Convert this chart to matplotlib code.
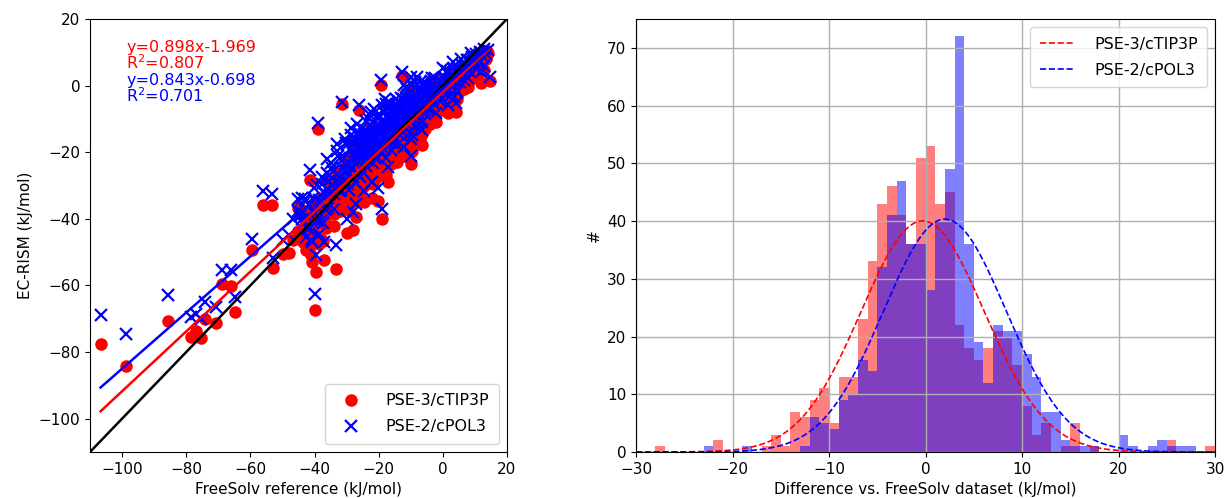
import numpy as np
import matplotlib
matplotlib.use("Agg")
import matplotlib.pyplot as plt

plt.rcParams["font.family"] = "DejaVu Sans"
plt.rcParams["font.size"] = 11

# FreeSolv reference hydration free energies and EC-RISM predictions (kJ/mol)
ref_x = [
    -106.7, -98.9, -85.8, -78.5, -76.8, -75.4, -74.2, -70.7, -68.7, -66.1,
    -64.8, -59.4, -56.2, -53.1, -52.9, -49.8, -47.9, -46.7, -45.1, -41.3,
    -39.9, -39.4, -38.9, -37.0, -33.4, -31.3, -26.1, -19.1, -19.4, -12.6,
    12.0, 14.6, 4.2, -42.8, -40.8, -38.5, -30.0, -28.0, -27.0, -24.5,
    -22.0, -20.3, -17.0, -10.0, -12.0, -6.5, -2.0, 1.5, 3.5, 7.8,
    10.5, -22.5, -26.6, -23.9, -30.6, -33.0, -36.0, -44.0,
    14.2, 13.5, 12.8, 12.1, 11.6, 10.9, 10.3, 9.8, 9.1, 8.6, 8.0, 7.4, 13.0, 11.2,
    6.8, 6.2, 5.9, 5.3, 4.8, 4.4, 3.9, 3.5, 3.0, 2.6, 2.1, 1.7, 1.2, 0.8, 0.3,
    -0.2, -0.6, -1.0, -1.5, -1.9, -2.3, -2.8, -3.2, -3.6, -4.1,
    -4.5, -4.9, -5.3, -5.6, -6.0, -6.3, -6.7, -7.0, -7.4, -7.7,
    -8.1, -8.4, -8.8, -9.1, -9.5, -9.8, -10.2, -10.5, -10.9, -11.2,
    -11.6, -11.9, -12.3, -13.0, -13.3, -13.7, -14.0, -14.4, -14.7,
    -4.7, -5.8, -6.9, -7.9, -8.6, -9.3, -10.0, -10.7, -11.4, -12.0, -13.5, -14.2, -15.0,
    -15.3, -15.6, -16.0, -16.3, -16.7, -17.0, -17.4, -17.8, -18.1, -18.5,
    -18.8, -19.2, -19.6, -19.9, -20.3, -20.6, -21.0, -21.4, -21.8, -22.1,
    -22.5, -22.9, -23.2, -23.6, -24.0, -24.4, -24.7, -25.0,
    -15.8, -16.5, -17.2, -17.6, -18.3, -19.0, -20.0, -20.8, -21.2, -21.6, -22.3, -23.0, -23.8, -24.2,
    -25.4, -25.8, -26.3, -26.7, -27.1, -27.5, -27.9, -28.3, -28.7, -29.1,
    -29.5, -29.9, -30.3, -30.7, -31.6, -32.0, -32.4, -32.9, -33.8, -34.2,
    -34.6, -35.0,
    -25.6, -26.9, -27.7, -28.5, -29.3, -30.5, -31.0, -33.1, -34.0,
    -35.4, -35.8, -36.2, -36.6, -37.4, -37.8, -38.2, -39.1, -40.2, -40.6,
    -41.0, -41.7, -42.1, -42.6, -43.2, -43.8, -44.5, -45.2,
    9.5, 8.9, 8.3, 7.7, 7.1, 6.5, 5.6, 5.0, 4.6, 4.0,
    3.3, 2.8, 2.3, 1.9, 1.4, 1.0, 0.5, 0.1, -0.4, -0.8,
    -2.5, -3.0, -3.4, -3.9, -4.3, -5.1, -5.5, -6.1, -6.5, -7.2,
    -7.6, -8.0, -8.3, -8.7, -9.0, -9.4, -9.7, -10.1, -10.4, -10.8,
    -11.1, -11.5, -11.8, -12.2, -12.5, -12.9, -13.2, -13.6, -13.9, -14.3,
    -14.6, -3.8, -6.6, -9.9, -12.8,
    -15.1, -15.5, -15.9, -16.2, -16.6, -16.9, -17.3, -17.7, -18.0, -18.4,
    -18.7, -19.3, -19.7, -20.1, -20.5, -20.9, -21.3, -21.7, -22.2, -22.6,
    -23.1, -23.5, -24.1, -24.6, -24.9, -25.3, -25.7, -26.2, -26.5, -27.3,
    -27.8, -28.1, -28.9, -29.7, -30.1, -31.2, -31.9, -32.6, -33.5, -34.4,
    -35.2, -35.6, -36.4, -36.9, -37.6, -38.0, -38.7, -39.3, -39.7, -40.4,
    -41.5, -42.3, -43.0, -43.5, -44.2,
]
pse3_y = [
    -77.6, -84.1, -70.8, -75.4, -73.6, -75.9, -70.0, -71.3, -59.7, -60.2,
    -67.9, -49.5, -35.9, -35.9, -54.8, -50.5, -50.2, -46.5, -36.9, -28.4,
    -67.3, -56.0, -13.1, -52.5, -55.0, -5.5, -7.3, -40.2, 0.2, 3.0,
    0.8, 1.3, -7.8, -49.5, -53.0, -47.5, -44.4, -43.4, -39.6, -35.0,
    -33.6, -34.6, -29.0, -23.4, -21.0, -14.5, -10.8, -8.3, -6.5, -0.5,
    2.6, -13.0, -17.5, -15.2, -22.0, -25.5, -28.0, -43.0,
    9.8, 8.1, 10.4, 7.2, 9.0, 6.5, 8.7, 5.1, 7.9, 4.3, 6.2, 3.0, 4.6, 3.8,
    3.5, 1.0, 4.6, -1.5, 2.9, -4.0, 1.4, 3.2, -2.6, 0.5, -5.8, 1.9, -1.2, -3.9, 0.2,
    -4.5, -1.8, -7.4, -2.2, -5.1, 0.8, -3.6, -8.5, -1.7, -6.0,
    -3.0, -10.4, -5.7, -13.0, -2.4, -9.6, -6.0, -16.3, -8.6, -4.9,
    -12.2, -8.5, -14.9, -4.1, -11.5, -7.8, -18.1, -9.4, -13.8, -7.0,
    -16.4, -12.7, -10.0, -19.6, -12.9, -17.3, -10.5, -15.9, -13.2,
    -7.2, -4.7, -12.7, -2.1, -11.7, -9.3, -20.0, -7.6, -13.2, -6.8, -16.1, -13.7, -20.4,
    -12.7, -20.0, -15.3, -23.6, -12.0, -18.2, -15.6, -21.0, -11.2, -20.6,
    -17.9, -25.2, -16.6, -19.8, -24.2, -16.5, -22.8, -20.2, -29.6, -19.8,
    -23.2, -17.5, -27.8, -22.2, -26.5, -20.9, -25.2, -30.4,
    -18.2, -14.8, -22.4, -13.8, -18.4, -13.0, -22.9, -18.7, -28.0, -15.4, -23.0, -19.6, -27.3, -21.7,
    -21.8, -27.1, -20.6, -31.0, -25.3, -34.7, -25.0, -30.4, -23.7, -29.1,
    -34.5, -25.8, -31.2, -28.5, -37.4, -28.7, -35.1, -26.5, -42.3, -31.7,
    -36.0, -30.4,
    -26.0, -24.1, -29.8, -21.6, -37.3, -29.4, -34.8, -32.7, -38.5,
    -35.8, -42.1, -32.5, -38.8, -46.6, -34.9, -41.3, -46.1, -36.1, -44.4,
    -50.8, -42.4, -48.8, -41.2, -46.8, -37.3, -45.9, -43.6,
    4.6, 8.0, 1.5, 5.9, 3.4, -1.1, 5.1, -0.5, 2.2, -4.4,
    4.0, -1.5, 1.1, -4.3, 1.3, -2.1, -4.5, 2.1, -7.3, -1.7,
    -3.2, -7.7, -1.0, -11.5, -5.8, -4.6, -11.9, -4.5, -8.8, -3.4,
    -15.8, -8.2, -12.4, -3.8, -12.1, -10.4, -19.7, -8.0, -15.3, -9.7,
    -12.9, -5.3, -17.6, -11.9, -15.2, -9.6, -19.8, -14.2, -11.5, -22.8,
    -10.1, -7.4, -17.9, -1.9, -16.5,
    -16.5, -11.9, -22.3, -14.5, -19.9, -11.2, -17.5, -26.9, -15.1, -20.5,
    -13.8, -23.3, -18.7, -27.0, -17.4, -20.7, -26.1, -17.5, -23.9, -15.3,
    -25.7, -22.1, -29.6, -21.1, -25.3, -19.7, -33.1, -23.5, -28.8, -22.5,
    -27.9, -33.2, -25.9, -32.6, -24.0, -32.0, -37.6, -28.2, -37.1, -31.9,
    -38.6, -32.9, -42.7, -38.1, -33.7, -46.1, -40.7, -36.3, -44.6, -40.3,
    -48.2, -45.0, -38.6, -47.0, -44.7,
]
pse2_y = [
    -69.0, -74.6, -62.8, -69.6, -68.6, -70.0, -65.0, -66.5, -55.5, -55.5,
    -63.5, -46.0, -31.7, -32.4, -51.8, -46.5, -45.0, -40.0, -33.9, -25.4,
    -62.5, -51.0, -11.3, -47.0, -48.0, -4.8, -5.8, -37.2, 1.6, 4.2,
    4.2, 2.7, -5.3, -45.6, -47.0, -44.5, -40.0, -38.0, -35.5, -31.5,
    -29.0, -30.6, -24.5, -21.0, -18.5, -11.0, -8.2, -5.7, -3.4, 2.3,
    5.0, -8.0, -11.5, -10.5, -16.0, -19.5, -22.0, -40.0,
    10.6, 9.4, 11.0, 8.8, 10.2, 8.1, 9.5, 7.0, 8.6, 6.4, 7.8, 5.5, 6.0, 6.9,
    5.9, 3.8, 6.3, 1.2, 4.9, -1.8, 3.9, 5.0, 0.3, 2.9, -3.1, 3.6, 1.7, -0.8, 2.6,
    -1.5, 1.0, -4.6, 0.9, -2.0, 2.4, -0.4, -5.2, 1.3, -3.0,
    -0.5, -6.8, -2.2, -8.4, 1.2, -5.0, -1.4, -12.6, -4.9, -1.2,
    -7.5, -3.8, -12.1, -0.4, -6.7, -4.0, -14.3, -3.6, -8.9, -1.1,
    -11.5, -7.7, -4.1, -13.7, -6.9, -12.3, -4.5, -10.8, -7.1,
    -3.7, -0.1, -7.5, 2.6, -5.0, -6.5, -16.1, -2.7, -9.3, 0.2, -8.1, -9.7, -16.4,
    -7.6, -14.9, -10.2, -19.4, -5.8, -13.0, -9.4, -15.7, -4.0, -13.3,
    -11.6, -19.9, -9.2, -13.5, -18.8, -9.1, -16.4, -12.7, -23.1, -12.3,
    -16.7, -10.0, -22.3, -15.6, -19.9, -13.3, -19.5, -25.8,
    -13.0, -7.6, -17.2, -5.5, -13.1, -5.7, -17.6, -14.2, -21.6, -6.9, -18.5, -14.1, -21.8, -16.1,
    -16.1, -21.5, -13.9, -26.2, -19.6, -28.9, -17.2, -24.6, -14.9, -23.2,
    -29.6, -17.9, -25.2, -21.6, -31.3, -21.7, -29.0, -17.4, -37.2, -25.5,
    -29.9, -23.2,
    -19.3, -18.4, -23.0, -12.7, -31.4, -23.4, -28.8, -26.6, -32.4,
    -28.5, -36.9, -26.2, -32.6, -41.2, -29.6, -34.9, -40.7, -30.6, -37.9,
    -46.3, -35.9, -43.2, -34.6, -41.1, -33.6, -39.2, -37.8,
    7.3, 9.8, 4.3, 7.8, 6.3, 1.8, 8.0, 2.5, 5.2, -1.3,
    7.1, 1.7, 4.2, -1.1, 4.5, 1.2, -1.3, 5.4, -4.0, 1.6,
    0.2, -4.2, 2.4, -7.0, -2.3, 0.0, -7.3, 0.2, -5.2, 1.2,
    -11.1, -3.4, -7.7, 1.0, -7.3, -5.6, -14.9, -2.2, -10.5, -3.8,
    -8.1, -0.4, -12.7, -7.0, -10.2, -3.6, -14.8, -9.2, -6.4, -17.8,
    -4.0, -2.9, -13.3, 2.5, -11.5,
    -11.4, -6.8, -17.1, -9.4, -14.7, -5.0, -12.3, -21.6, -7.9, -15.2,
    -7.5, -18.0, -13.3, -21.6, -12.0, -15.3, -20.7, -11.0, -18.4, -8.8,
    -20.2, -16.5, -24.0, -14.4, -19.7, -13.0, -27.4, -17.8, -23.0, -15.7,
    -21.1, -27.4, -19.1, -26.7, -17.1, -25.0, -31.6, -21.2, -30.9, -24.7,
    -32.4, -26.7, -37.4, -31.8, -27.4, -40.7, -34.3, -29.8, -38.2, -33.8,
    -42.7, -39.4, -34.0, -41.4, -38.0,
]

# linear fits reported on the plot
pse3_fit = (0.898, -1.969, 0.807)
pse2_fit = (0.843, -0.698, 0.701)

# histogram of (EC-RISM - FreeSolv), 1 kJ/mol bins from -30 to 30
bin_edges = np.arange(-30, 31, 1)
pse3_counts = [
    0, 0, 1, 0, 0, 0, 0, 0, 2, 0,
    0, 0, 0, 1, 3, 1, 7, 6, 9, 11,
    5, 13, 13, 23, 33, 43, 46, 41, 36, 51,
    53, 43, 45, 22, 18, 16, 18, 21, 20, 15,
    8, 3, 5, 0, 1, 5, 0, 1, 0, 0,
    0, 0, 0, 0, 0, 2, 0, 0, 0, 1,
]
pse2_counts = [
    0, 0, 0, 0, 0, 0, 0, 1, 0, 0,
    0, 1, 0, 0, 0, 0, 0, 1, 6, 5,
    4, 9, 10, 16, 14, 32, 41, 47, 36, 36,
    28, 40, 49, 72, 36, 19, 12, 22, 21, 21,
    17, 13, 7, 7, 2, 1, 1, 1, 0, 0,
    3, 1, 0, 1, 2, 1, 1, 1, 0, 0,
]
# normal fits to the differences: mean, sigma, number of molecules
pse3_norm = (-0.3, 6.4, 642)
pse2_norm = (2.0, 6.35, 642)

labels = ["PSE-3/cTIP3P", "PSE-2/cPOL3"]

fig = plt.figure(figsize=(12.26, 4.98), dpi=100)
ax1 = fig.add_axes([0.0734, 0.0924, 0.3401, 0.8695])
ax2 = fig.add_axes([0.5188, 0.0924, 0.4723, 0.8695])

# --- left: correlation plot ---
ax1.plot(ref_x, pse3_y, "o", color="red", ms=8, label=labels[0])
ax1.plot(ref_x, pse2_y, "x", color="blue", ms=8.5, mew=1.6, label=labels[1])

lims = (-110, 20)
ax1.plot(lims, lims, color="black", lw=1.8)
xfit = np.array([min(ref_x), max(ref_x)])
ax1.plot(xfit, pse3_fit[0] * xfit + pse3_fit[1], color="red", lw=1.8)
ax1.plot(xfit, pse2_fit[0] * xfit + pse2_fit[1], color="blue", lw=1.8)

ax1.set_xlim(lims)
ax1.set_ylim(lims)
ax1.set_xticks(np.arange(-100, 21, 20))
ax1.set_yticks(np.arange(-100, 21, 20))
ax1.set_xlabel("FreeSolv reference (kJ/mol)")
ax1.set_ylabel("EC-RISM (kJ/mol)")

txt = [
    (f"y={pse3_fit[0]:.3f}x{pse3_fit[1]:.3f}", "red", 0.923),
    (f"R$^2$={pse3_fit[2]:.3f}", "red", 0.885),
    (f"y={pse2_fit[0]:.3f}x{pse2_fit[1]:.3f}", "blue", 0.847),
    (f"R$^2$={pse2_fit[2]:.3f}", "blue", 0.809),
]
for s, c, yy in txt:
    ax1.text(0.087, yy, s, color=c, fontsize=11.5, transform=ax1.transAxes,
             va="baseline")

ax1.legend(loc="lower right", fontsize=11.5, handletextpad=1.2,
           borderpad=0.6, labelspacing=0.7)

# --- right: error histograms ---
ax2.hist(bin_edges[:-1], bins=bin_edges, weights=pse3_counts,
         color="red", alpha=0.5)
ax2.hist(bin_edges[:-1], bins=bin_edges, weights=pse2_counts,
         color="blue", alpha=0.5)

xs = np.linspace(-30, 30, 400)
for (mu, sd, n), c, lab in zip([pse3_norm, pse2_norm], ["red", "blue"], labels):
    gauss = n / (sd * np.sqrt(2 * np.pi)) * np.exp(-0.5 * ((xs - mu) / sd) ** 2)
    ax2.plot(xs, gauss, "--", color=c, lw=1.2, label=lab)

ax2.set_xlim(-30, 30)
ax2.set_ylim(0, 75)
ax2.set_yticks(np.arange(0, 71, 10))
ax2.grid(True, color="#b0b0b0", lw=1.0)
ax2.set_xlabel("Difference vs. FreeSolv dataset (kJ/mol)")
ax2.set_ylabel("#")
ax2.legend(loc="upper right", fontsize=11.5, handlelength=2.2,
           handletextpad=1.2, borderpad=0.6, labelspacing=0.7)

fig.savefig("out.png", dpi=100)
